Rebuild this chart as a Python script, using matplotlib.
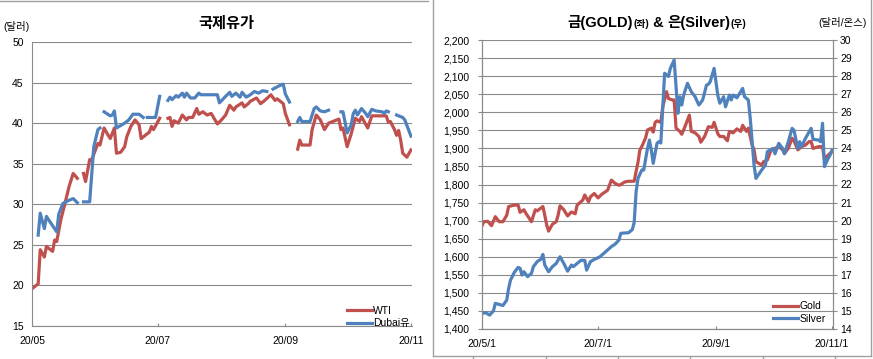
import numpy as np
import pandas as pd
import matplotlib
matplotlib.use('Agg')
import matplotlib.pyplot as plt
import matplotlib.dates as mdates
from matplotlib.lines import Line2D
from matplotlib.ticker import FuncFormatter

plt.rcParams['font.family'] = ['Liberation Sans', 'Noto Sans CJK KR']
plt.rcParams['axes.unicode_minus'] = False

nan = np.nan

# ---- oil prices (USD / bbl), NaN = no quote ----
wti_dates = ['05-01', '05-04', '05-05', '05-07', '05-08', '05-11', '05-12', '05-13', '05-15', '05-17',
             '05-19', '05-21', '05-23', '05-24', '05-26', '05-27', '05-29', '05-30', '06-02', '06-03',
             '06-05', '06-07', '06-08', '06-10', '06-11', '06-13', '06-15', '06-16', '06-18', '06-20',
             '06-22', '06-23', '06-25', '06-27', '06-28', '06-29', '07-02', '07-04', '07-06', '07-07',
             '07-08', '07-09', '07-11', '07-13', '07-15', '07-16', '07-18', '07-20', '07-21', '07-23',
             '07-25', '07-27', '07-30', '08-01', '08-03', '08-05', '08-07', '08-08', '08-11', '08-12',
             '08-14', '08-15', '08-18', '08-20', '08-22', '08-25', '08-27', '08-28', '08-30', '08-31',
             '09-01', '09-03', '09-05', '09-07', '09-08', '09-09', '09-13', '09-14', '09-16', '09-18',
             '09-20', '09-22', '09-24', '09-27', '09-28', '09-29', '10-01', '10-03', '10-05', '10-07',
             '10-08', '10-11', '10-13', '10-15', '10-17', '10-20', '10-21', '10-22', '10-24', '10-25',
             '10-26', '10-27', '10-28', '10-30', '11-01']
wti = [19.6, 20.2, 24.4, 23.5, 24.8, 24.2, 25.6, 25.4, 28.1, 30.1,
       32.2, 33.8, 33.2, nan, 33.8, 32.8, 35.5, 35.5, 37.5, 37.3,
       39.4, 38.5, 38.1, 39.4, 36.3, 36.4, 37.1, 38.3, 39.6, 40.4,
       39.8, 38.1, 38.5, 38.9, 39.6, 39.2, 40.6, nan, 40.6, 40.7,
       39.6, 40.3, 40.0, 41.0, 40.4, 40.7, 40.7, 41.8, 41.1, 41.4,
       41.0, 41.2, 39.9, 40.4, 41.0, 42.2, 41.6, 42.0, 42.5, 42.0,
       42.4, 42.7, 43.1, 42.4, 42.8, 43.5, 42.8, 43.0, 42.6, 42.4,
       41.2, 39.8, nan, 36.8, 37.9, 37.3, 37.3, 39.2, 41.0, 40.4,
       39.2, 40.0, 40.2, 40.5, 39.2, 39.4, 37.1, 38.7, 40.6, 40.2,
       40.8, 39.4, 40.9, 40.9, 40.9, 40.9, 40.1, 40.2, 39.2, 38.5,
       39.1, 37.9, 36.3, 35.8, 36.7]

dubai_dates = ['05-04', '05-05', '05-07', '05-08', '05-13', '05-14', '05-16', '05-19', '05-21', '05-23',
               '05-24', '05-26', '05-29', '05-31', '06-02', '06-03', '06-04', '06-05', '06-08', '06-09',
               '06-10', '06-11', '06-15', '06-17', '06-19', '06-22', '06-24', '06-25', '06-26', '06-30',
               '07-02', '07-04', '07-06', '07-07', '07-08', '07-10', '07-11', '07-13', '07-14', '07-15',
               '07-17', '07-19', '07-21', '07-22', '07-30', '07-31', '08-03', '08-05', '08-06', '08-08',
               '08-10', '08-11', '08-13', '08-15', '08-17', '08-19', '08-21', '08-23', '08-24', '08-26',
               '08-29', '08-31', '09-01', '09-03', '09-05', '09-07', '09-08', '09-09', '09-13', '09-15',
               '09-16', '09-18', '09-20', '09-22', '09-25', '09-28', '09-29', '10-01', '10-03', '10-04',
               '10-05', '10-06', '10-08', '10-10', '10-11', '10-13', '10-15', '10-18', '10-19', '10-20',
               '10-21', '10-23', '10-25', '10-28', '10-29', '11-01']
dubai = [26.2, 28.9, 27.0, 28.5, 26.6, 28.8, 30.1, 30.5, 30.7, 30.2,
         nan, 30.3, 30.3, 37.1, 39.2, 39.4, nan, 41.4, 40.9, 41.0,
         41.5, 39.4, 40.0, 40.4, 41.1, 41.1, 40.7, nan, 40.7, 40.7,
         43.3, nan, 42.8, 43.2, 42.9, 43.4, 43.2, 43.7, 43.2, 43.7,
         43.1, 43.1, 43.7, 43.5, 43.5, 42.5, 43.3, 43.8, 43.3, 43.7,
         43.2, 43.8, 43.2, 43.5, 43.9, 43.7, 44.0, 43.9, nan, 44.2,
         44.6, 44.8, 43.6, 42.6, nan, 40.2, 40.7, 40.2, 40.2, 41.8,
         42.0, 41.5, 41.4, 41.6, nan, 41.4, 41.4, 38.8, 39.8, 41.2,
         41.6, 41.0, 41.8, 41.2, 40.8, 41.7, 41.5, 41.4, 41.2, 41.5,
         41.4, nan, 41.0, 40.7, 40.4, 38.4]

# ---- gold (USD/oz, left) and silver (USD/oz, right) ----
gold_dates = ['05-01', '05-02', '05-04', '05-06', '05-08', '05-10', '05-12', '05-14', '05-15', '05-18',
              '05-20', '05-21', '05-23', '05-24', '05-27', '05-29', '05-30', '06-02', '06-03', '06-04',
              '06-05', '06-07', '06-09', '06-10', '06-11', '06-13', '06-15', '06-17', '06-19', '06-20',
              '06-23', '06-24', '06-26', '06-27', '06-29', '07-01', '07-03', '07-06', '07-08', '07-10',
              '07-12', '07-13', '07-15', '07-17', '07-20', '07-21', '07-22', '07-23', '07-24', '07-26',
              '07-27', '07-29', '07-30', '07-31', '08-01', '08-03', '08-04', '08-06', '08-07', '08-09',
              '08-10', '08-11', '08-13', '08-14', '08-15', '08-18', '08-19', '08-21', '08-23', '08-24',
              '08-26', '08-28', '08-30', '08-31', '09-02', '09-03', '09-05', '09-07', '09-08', '09-10',
              '09-12', '09-14', '09-15', '09-17', '09-18', '09-20', '09-21', '09-22', '09-25', '09-26',
              '09-28', '09-30', '10-02', '10-04', '10-06', '10-07', '10-09', '10-11', '10-12', '10-14',
              '10-16', '10-18', '10-20', '10-21', '10-22', '10-25', '10-27', '10-28', '10-30', '11-01']
gold = [1686, 1697, 1698, 1686, 1711, 1697, 1697, 1715, 1739, 1743,
        1743, 1723, 1730, 1721, 1697, 1730, 1727, 1739, 1715, 1688,
        1671, 1690, 1697, 1715, 1741, 1730, 1713, 1724, 1719, 1743,
        1757, 1771, 1752, 1766, 1775, 1763, 1773, 1784, 1812, 1803,
        1798, 1800, 1807, 1809, 1809, 1836, 1862, 1896, 1905, 1929,
        1951, 1956, 1945, 1972, 1976, 1972, 2015, 2057, 2038, 2034,
        2034, 1956, 1947, 1939, 1951, 1992, 1947, 1943, 1933, 1917,
        1933, 1960, 1958, 1972, 1940, 1933, 1933, 1921, 1947, 1943,
        1954, 1947, 1964, 1947, 1956, 1909, 1896, 1863, 1854, 1863,
        1868, 1896, 1900, 1905, 1896, 1886, 1900, 1928, 1921, 1896,
        1905, 1909, 1919, 1919, 1900, 1905, 1905, 1868, 1882, 1891]

silver_dates = ['05-01', '05-03', '05-05', '05-07', '05-08', '05-10', '05-12', '05-14', '05-15', '05-16',
                '05-18', '05-20', '05-21', '05-22', '05-23', '05-25', '05-27', '05-28', '05-30', '06-01',
                '06-02', '06-03', '06-05', '06-07', '06-09', '06-11', '06-13', '06-15', '06-17', '06-18',
                '06-20', '06-22', '06-24', '06-25', '06-27', '06-29', '07-01', '07-02', '07-05', '07-08',
                '07-10', '07-12', '07-13', '07-17', '07-19', '07-20', '07-21', '07-22', '07-24', '07-25',
                '07-27', '07-28', '07-29', '07-30', '08-01', '08-02', '08-03', '08-05', '08-07', '08-08',
                '08-10', '08-12', '08-13', '08-14', '08-15', '08-17', '08-19', '08-21', '08-23', '08-25',
                '08-27', '08-28', '08-29', '08-31', '09-02', '09-03', '09-05', '09-06', '09-08', '09-09',
                '09-10', '09-12', '09-14', '09-15', '09-16', '09-18', '09-19', '09-20', '09-21', '09-22',
                '09-25', '09-27', '09-28', '10-01', '10-02', '10-04', '10-06', '10-07', '10-09', '10-11',
                '10-12', '10-14', '10-15', '10-16', '10-18', '10-21', '10-22', '10-25', '10-26', '10-27',
                '10-28', '10-30', '10-31', '11-01']
silver = [14.87, 14.9, 14.77, 15.0, 15.42, 15.36, 15.3, 15.6, 16.25, 16.71,
          17.14, 17.41, 17.36, 16.99, 17.17, 16.9, 17.08, 17.45, 17.73, 17.87,
          18.13, 17.54, 17.17, 17.45, 17.63, 18.0, 17.63, 17.2, 17.54, 17.45,
          17.63, 17.8, 17.8, 17.26, 17.73, 17.85, 17.95, 18.0, 18.28, 18.56,
          18.7, 18.93, 19.3, 19.33, 19.5, 19.9, 21.6, 22.34, 22.8, 22.8,
          24.0, 24.46, 23.9, 23.17, 24.28, 24.37, 24.3, 28.16, 27.98, 28.43,
          28.89, 25.94, 26.86, 26.4, 26.95, 27.6, 27.14, 26.86, 26.4, 26.68,
          27.5, 27.55, 27.7, 28.43, 26.9, 26.5, 26.86, 26.3, 26.95, 26.68,
          26.95, 26.8, 27.14, 27.32, 26.86, 26.68, 25.67, 24.37, 23.08, 22.34,
          22.8, 23.08, 23.82, 24.0, 23.7, 24.28, 24.0, 23.7, 24.37, 25.11,
          25.0, 24.0, 24.37, 24.1, 24.55, 25.11, 24.5, 24.46, 24.37, 25.39,
          22.99, 23.45, 23.63, 23.9]

tick_dates = ['2020-05-01', '2020-07-01', '2020-09-01', '2020-11-01']
oil_xlabels = ['20/05', '20/07', '20/09', '20/11']
metal_xlabels = ['20/5/1', '20/7/1', '20/9/1', '20/11/1']


def to_dt(days):
    return pd.to_datetime(['2020-' + d for d in days])


RED = '#C0504D'
BLUE = '#4F81BD'
GRID = '#8a8a8a'
W, H = 873, 359
LS = 7.5  # tick / legend font size

fig = plt.figure(figsize=(W / 100, H / 100), dpi=100)


def fx(x):
    return x / W


def fy(y):
    return 1 - y / H


def style_axes(ax):
    ax.grid(axis='y', color=GRID, lw=0.8)
    ax.set_axisbelow(True)
    for s in ax.spines.values():
        s.set_color(GRID)
        s.set_linewidth(0.8)
    ax.set_xlim(pd.Timestamp('2020-05-01'), pd.Timestamp('2020-11-01 12:00'))
    ax.set_xticks(pd.to_datetime(tick_dates))


# ---------- left: oil ----------
ax1 = fig.add_axes([fx(32), fy(326), fx(412) - fx(32), fy(42) - fy(326)])
style_axes(ax1)
ax1.spines['top'].set_visible(False)
ax1.spines['right'].set_visible(False)
ax1.plot(to_dt(wti_dates), wti, color=RED, lw=2.3, label='WTI')
ax1.plot(to_dt(dubai_dates), dubai, color=BLUE, lw=2.3, label='Dubai유')
ax1.set_ylim(15, 50)
ax1.set_yticks(range(15, 51, 5))
ax1.set_xticklabels(oil_xlabels)
ax1.tick_params(axis='y', length=0, pad=6, labelsize=LS)
ax1.tick_params(axis='x', direction='in', length=2.2, color=GRID, pad=7.5, labelsize=LS)
ax1.legend(loc='lower right', bbox_to_anchor=(1.0, -0.015), frameon=False, fontsize=LS,
           handlelength=2.4, handletextpad=0.1, labelspacing=0.25, borderpad=0.2, borderaxespad=0)
fig.text(fx(226), fy(24), '국제유가', ha='center', va='center', fontsize=11, weight='bold')
fig.text(fx(3), fy(27), '(달러)', ha='left', va='center', fontsize=7.5)

# ---------- right: gold & silver ----------
ax2 = fig.add_axes([fx(482), fy(329), fx(833) - fx(482), fy(40) - fy(329)])
style_axes(ax2)
ax2.spines['top'].set_visible(False)
l1, = ax2.plot(to_dt(gold_dates), gold, color=RED, lw=2.3, label='Gold')
ax2.set_ylim(1400, 2200)
ax2.set_yticks(range(1400, 2201, 50))
ax2.yaxis.set_major_formatter(FuncFormatter(lambda v, p: f'{v:,.0f}'))
ax2.set_xticklabels(metal_xlabels)
ax2.tick_params(axis='y', direction='out', length=3, color=GRID, pad=6, labelsize=LS)
ax2.tick_params(axis='x', direction='in', length=2.2, color=GRID, pad=7, labelsize=LS)

ax3 = ax2.twinx()
ax3.spines['top'].set_visible(False)
for s in ax3.spines.values():
    s.set_color(GRID)
    s.set_linewidth(0.8)
l2, = ax3.plot(to_dt(silver_dates), silver, color=BLUE, lw=2.3, label='Silver')
ax3.set_ylim(14, 30)
ax3.set_yticks(range(14, 31))
ax3.tick_params(axis='y', direction='out', length=3, color=GRID, pad=2, labelsize=LS)
ax3.legend([l1, l2], ['Gold', 'Silver'], loc='lower right', bbox_to_anchor=(0.985, 0.01),
           frameon=False, fontsize=LS, handlelength=2.4, handletextpad=0.1, labelspacing=0.25,
           borderpad=0.2, borderaxespad=0)
fig.text(fx(867), fy(22), '(달러/온스)', ha='right', va='center', fontsize=7.5)

# title with small (좌)/(우) parts, laid out piece by piece
pieces = [('금(GOLD)', 10.5), ('(좌)', 7), (' & ', 10.5), ('은(Silver)', 10.5), ('(우)', 7)]
fig.canvas.draw()
r = fig.canvas.get_renderer()
texts = [fig.text(0, fy(27), s, fontsize=f, weight='bold', va='baseline') for s, f in pieces]
widths = [t.get_window_extent(r).width for t in texts]
x0 = 657 - sum(widths) / 2
for t, w in zip(texts, widths):
    t.set_x(fx(x0))
    x0 += w

# panel frames
frame = dict(transform=fig.transFigure, color='#a0a0a0', lw=1)
fig.add_artist(Line2D([0, fx(428)], [fy(1), fy(1)], **frame))
fig.add_artist(Line2D([fx(433), fx(433)], [1, fy(356)], **frame))
fig.add_artist(Line2D([fx(433), fx(871)], [fy(356), fy(356)], **frame))
fig.add_artist(Line2D([fx(871), fx(871)], [1, fy(356)], **frame))
for xt in [473, 546, 618, 690, 763, 835]:
    fig.add_artist(Line2D([fx(xt), fx(xt)], [fy(356), 0], **frame))

fig.savefig('out.png', dpi=100)
